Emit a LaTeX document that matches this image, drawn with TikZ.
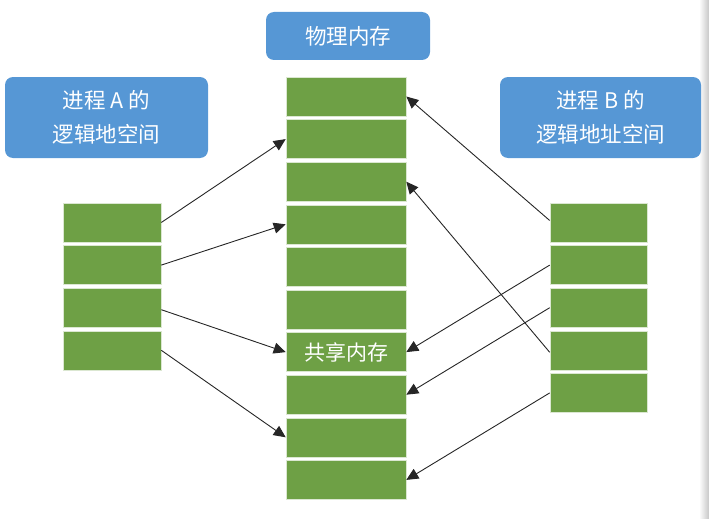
\documentclass[tikz,border=0pt]{standalone}
\usepackage{fontspec}
\newfontfamily\cjkfont{Noto Sans CJK SC}
\usetikzlibrary{arrows.meta}

\definecolor{titleblue}{RGB}{86,151,213}
\definecolor{blockgreen}{RGB}{110,160,69}

\tikzset{
    titlebox/.style={rectangle, rounded corners=8pt, fill=titleblue, text=white,
        font=\cjkfont\fontsize{21.5}{34}\selectfont, align=center, inner sep=0pt},
    memblock/.style={rectangle, fill=blockgreen, draw=white!75!blockgreen, line width=0.6pt,
        minimum height=39pt, inner sep=0pt},
    maparrow/.style={-{Triangle[length=12pt,width=11pt]}, line width=0.9pt, black!85}
}

\begin{document}
\begin{tikzpicture}[x=1pt,y=-1pt]
        \useasboundingbox (0,0) rectangle (709,519);

        % Shadow at the right edge
        \shade[left color=white, right color=black!22] (699,0) rectangle (709,519);

        % Title boxes
        \node[titlebox, minimum width=164pt, minimum height=48pt] (phys) at (348,36) {物理内存};
        \node[titlebox, minimum width=203pt, minimum height=81pt] (procA) at (106.5,117.5) {进程 A 的\\逻辑地空间};
        \node[titlebox, minimum width=201pt, minimum height=81pt] (procB) at (600.5,117.5) {进程 B 的\\逻辑地址空间};

        % Physical memory column
        \foreach \i in {1,...,10} {
            \node[memblock, minimum width=120pt] (m\i) at (346,{96.5+42.6*(\i-1)}) {};
        }
        \node[font=\cjkfont\fontsize{21}{25}\selectfont, text=white] (shared) at (m7) {共享内存};

        % Logical blocks of process A
        \foreach \i in {1,...,4} {
            \node[memblock, minimum width=98pt] (a\i) at (112,{222.5+42.6*(\i-1)}) {};
        }

        % Logical blocks of process B
        \foreach \i in {1,...,5} {
            \node[memblock, minimum width=97pt] (b\i) at (598.5,{222.5+42.6*(\i-1)}) {};
        }

        % Mapping of process A
        \draw[maparrow] (a1.east) -- (m2.west);
        \draw[maparrow] (a2.east) -- (m4.west);
        \draw[maparrow] ([yshift=-2pt]a3.east) -- (m7.west);
        \draw[maparrow] (a4.east) -- (m9.west);

        % Mapping of process B
        \draw[maparrow] ([yshift=2pt]b1.west) -- (m1.east);
        \draw[maparrow] ([yshift=-2pt]b4.west) -- (m3.east);
        \draw[maparrow] (b2.west) -- (m7.east);
        \draw[maparrow] (b3.west) -- (m8.east);
        \draw[maparrow] (b5.west) -- (m10.east);
\end{tikzpicture}
\end{document}
